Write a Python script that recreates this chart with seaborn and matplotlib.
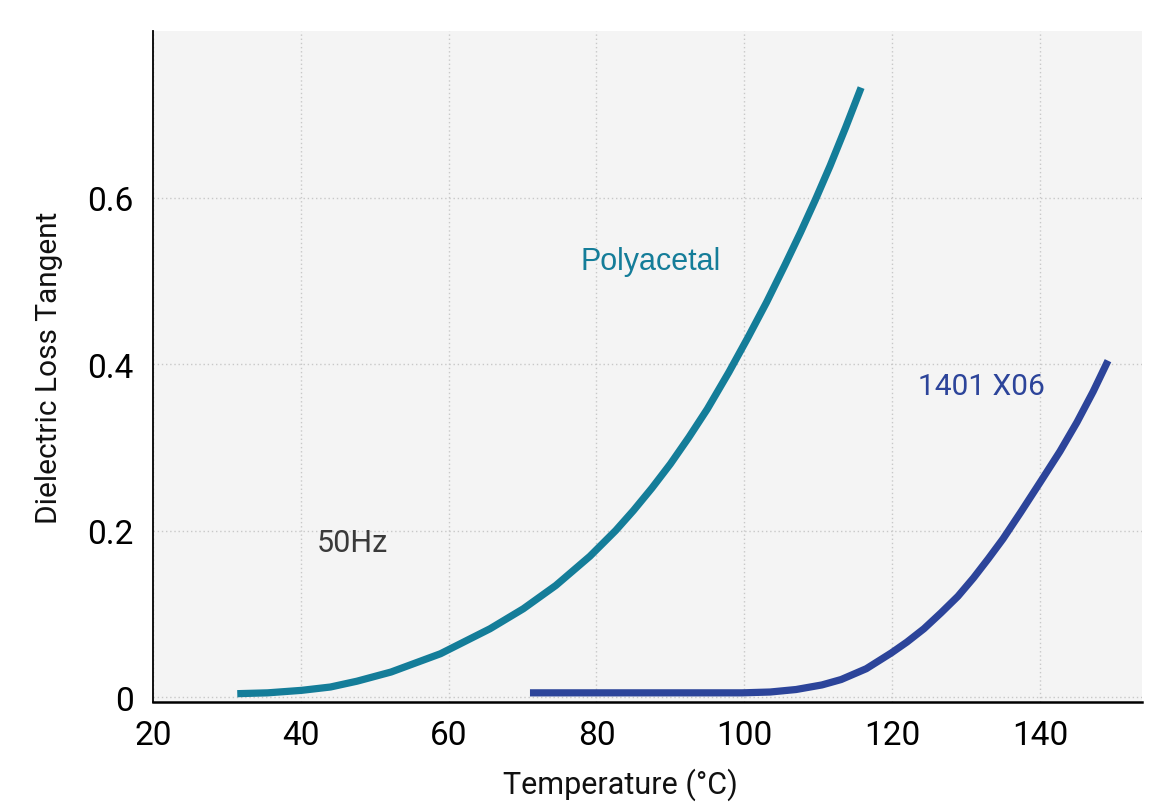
import numpy as np
import pandas as pd
import matplotlib
matplotlib.use("Agg")
import matplotlib.pyplot as plt
import seaborn as sns

# values (temperature in degC, loss tangent)
polyacetal_temp = [31.4, 35.5, 40.1, 44.0, 47.6, 52.2, 58.9, 65.6, 70.1, 74.5, 79.1, 82.6,
                   85.0, 87.5, 90.0, 92.5, 95.0, 97.9, 100.5, 103.0, 105.5, 107.6,
                   109.6, 111.6, 113.7, 115.8]
polyacetal_tan = [0.004, 0.005, 0.008, 0.012, 0.019, 0.030, 0.052, 0.082, 0.106, 0.134, 0.169, 0.200,
                  0.224, 0.251, 0.280, 0.312, 0.346, 0.390, 0.432, 0.474, 0.519, 0.558,
                  0.597, 0.638, 0.684, 0.732]

x06_temp = [71.0, 85.0, 99.7, 103.5, 107.0, 110.5, 113.1, 116.5, 119.9, 122.0, 124.3, 126.6,
            128.9, 131.0, 133.0, 135.0, 137.4, 140.1, 142.7, 145.0, 147.2, 149.2]
x06_tan = [0.005, 0.005, 0.005, 0.006, 0.009, 0.0145, 0.021, 0.034, 0.053, 0.066, 0.082, 0.101,
           0.121, 0.143, 0.166, 0.190, 0.222, 0.259, 0.295, 0.330, 0.367, 0.404]

x_ticks = [20, 40, 60, 80, 100, 120, 140]
y_ticks = [0, 0.2, 0.4, 0.6]
y_tick_labels = ["0", "0.2", "0.4", "0.6"]

TEAL = "#147d99"
NAVY = "#2c449a"

df = pd.concat([
    pd.DataFrame({"temp": polyacetal_temp, "tan": polyacetal_tan, "material": "Polyacetal"}),
    pd.DataFrame({"temp": x06_temp, "tan": x06_tan, "material": "1401 X06"}),
])

sns.set_theme(style="white")
plt.rcParams["font.family"] = ["Roboto", "DejaVu Sans"]

fig = plt.figure(figsize=(11.6, 8.12), dpi=100)
ax = fig.add_axes([153 / 1160, 1 - 703 / 812, (1142 - 153) / 1160, (703 - 32) / 812])
ax.set_facecolor("#f4f4f4")

for name, color in [("Polyacetal", TEAL), ("1401 X06", NAVY)]:
    sub = df[df["material"] == name]
    sns.lineplot(data=sub, x="temp", y="tan", color=color, linewidth=5.2,
                 sort=False, estimator=None, ax=ax, solid_capstyle="butt",
                 solid_joinstyle="round")

ax.set_xlim(20.6, 153.8)
ax.set_ylim(-0.006, 0.8)
ax.set_xticks(x_ticks)
ax.set_yticks(y_ticks)
ax.set_yticklabels(y_tick_labels)
ax.tick_params(axis="both", length=0, labelsize=24, colors="black")
ax.tick_params(axis="x", pad=12)
ax.tick_params(axis="y", pad=14)

ax.grid(True, linestyle=(0, (1.0, 2.0)), color="#c8c8c8", linewidth=1.0)
ax.set_axisbelow(True)

for s in ["top", "right"]:
    ax.spines[s].set_visible(False)
ax.spines["left"].set_color("black")
ax.spines["left"].set_linewidth(1.3)
ax.spines["bottom"].set_color("black")
ax.spines["bottom"].set_linewidth(1.8)

ax.set_xlabel("Temperature (°C)", fontsize=22, color="#111111")
ax.set_ylabel("Dielectric Loss Tangent", fontsize=21.5, color="#111111")
ax.xaxis.set_label_coords(0.473, -0.097)
ax.yaxis.set_label_coords(-0.091, 0.5)

ax.text(77.9, 0.524, "Polyacetal", color=TEAL, fontsize=22,
        family=["Liberation Sans", "DejaVu Sans"], ha="left", va="center")
ax.text(123.5, 0.373, "1401 X06", color=NAVY, fontsize=21.5, ha="left", va="center")
ax.text(42.2, 0.186, "50Hz", color="#3a3a3a", fontsize=22, ha="left", va="center")

fig.savefig("out.png", dpi=100, facecolor="white")
